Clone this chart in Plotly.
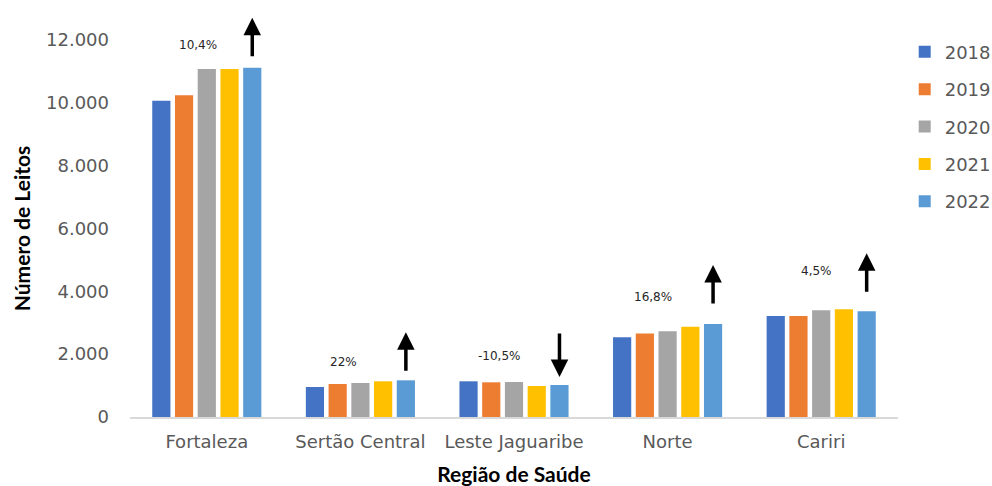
import plotly.graph_objects as go

regions = ["Fortaleza", "Sertão Central", "Leste Jaguaribe", "Norte", "Cariri"]
years = ["2018", "2019", "2020", "2021", "2022"]
v2018 = [10070, 955, 1136, 2537, 3217]
v2019 = [10245, 1051, 1104, 2654, 3217]
v2020 = [11080, 1083, 1115, 2729, 3397]
v2021 = [11075, 1136, 987, 2876, 3429]
v2022 = [11115, 1168, 1019, 2962, 3365]
pct_labels = ["10,4%", "22%", "-10,5%", "16,8%", "4,5%"]
trend_up = [True, True, False, True, True]

series = [v2018, v2019, v2020, v2021, v2022]
colors = ["#4472C4", "#ED7D31", "#A5A5A5", "#FFC000", "#5B9BD5"]

fig = go.Figure()
for yr, vals, c in zip(years, series, colors):
    fig.add_trace(go.Bar(name=yr, x=regions, y=vals, marker_color=c,
                         marker_line_width=0, legendgroup=yr))

ann = []
label_dx = [-9, -17, -15, -15, -5]
label_dy = [23, 18, 29, 27, 40]
arrow_dy = [50, 48, 8, 59, 58]
for i, r in enumerate(regions):
    top = v2022[i]
    ann.append(dict(x=i, y=top, xref="x", yref="y", text=pct_labels[i],
                    showarrow=False, xshift=label_dx[i], yshift=label_dy[i],
                    font=dict(family="DejaVu Sans", size=12, color="#262626")))
    ann.append(dict(x=i + 0.296, y=top, xref="x", yref="y", text="",
                    showarrow=True, arrowhead=2, arrowsize=1, arrowwidth=3.5,
                    arrowcolor="black", ax=0, ay=(40 if trend_up[i] else -45),
                    standoff=0, yshift=arrow_dy[i]))

fig.update_layout(
    width=992, height=486,
    margin=dict(l=130, r=94, t=40, b=69),
    plot_bgcolor="white", paper_bgcolor="white",
    barmode="group", bargap=0.26, bargroupgap=0.2,
    font=dict(family="DejaVu Sans", size=18, color="#595959"),
    annotations=ann,
    legend=dict(xref="container", yref="container", x=0.912, y=0.931,
                xanchor="left", yanchor="top", tracegroupgap=11,
                font=dict(family="DejaVu Sans", size=18, color="#595959"),
                bgcolor="rgba(0,0,0,0)"),
    xaxis=dict(showline=True, linecolor="#D9D9D9", linewidth=1.5,
               ticks="", ticklabelstandoff=8, automargin=False,
               tickfont=dict(size=18, color="#595959"),
               title=dict(text="<b>Região de Saúde</b>", standoff=19,
                          font=dict(family="Lato", size=21, color="black"))),
    yaxis=dict(range=[0, 12000], tickvals=[0, 2000, 4000, 6000, 8000, 10000, 12000],
               ticktext=["0", "2.000", "4.000", "6.000", "8.000", "10.000", "12.000"],
               showgrid=False, zeroline=False, showline=False,
               ticklabelstandoff=20, automargin=False,
               tickfont=dict(size=18, color="#595959"),
               title=dict(text="<b>Número de Leitos</b>", standoff=9,
                          font=dict(family="Lato", size=21, color="black"))),
)

fig.write_html("out.html")
